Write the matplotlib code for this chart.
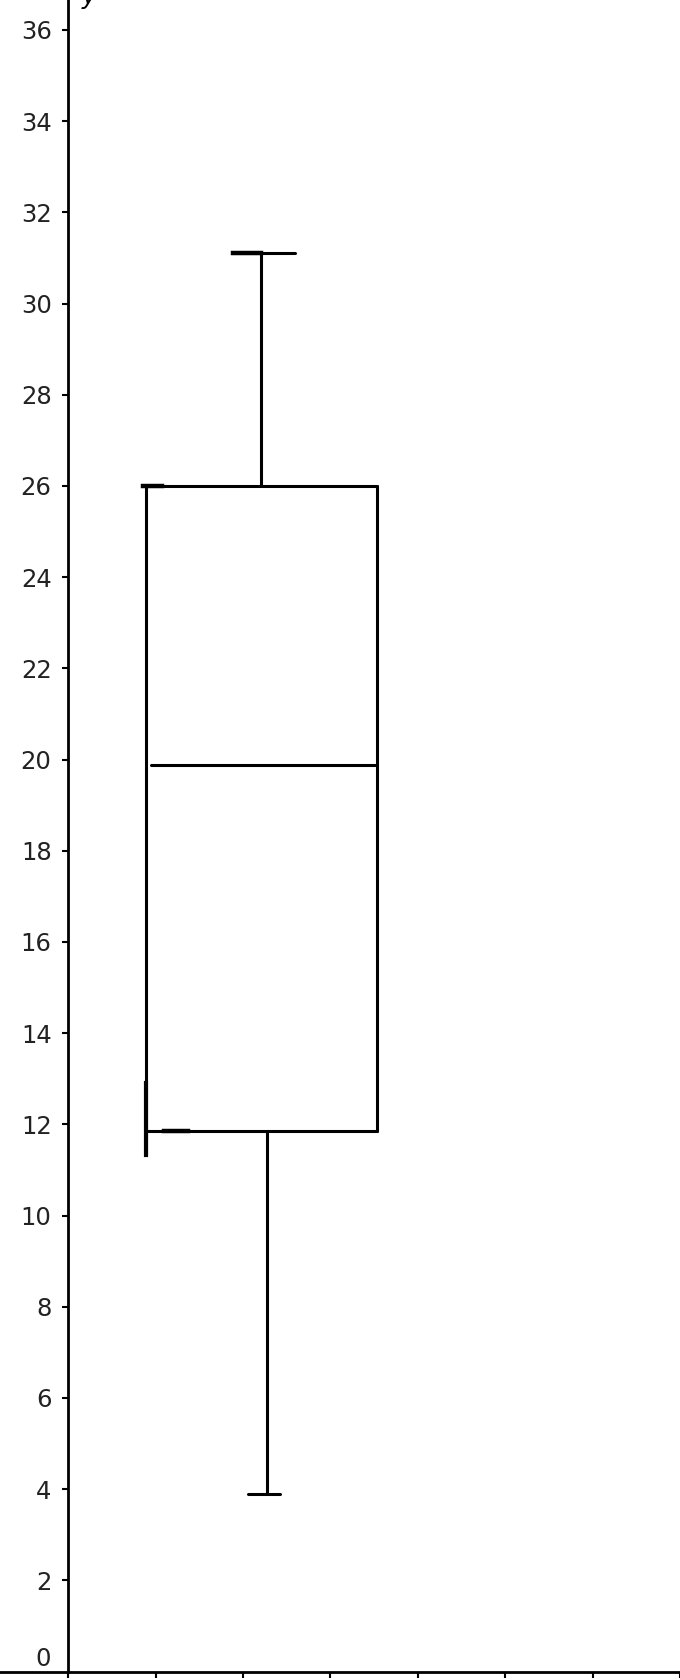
import matplotlib
matplotlib.use("Agg")
import matplotlib.pyplot as plt
import numpy as np

# Box plot statistics
lower_whisker = 3.9
q1 = 11.85
median = 19.87
q3 = 26.0
upper_whisker = 31.1
left_edge_low = 11.33   # left side of the box drawn slightly below q1

y_ticks = list(range(2, 37, 2))
x_ticks = list(range(0, 8))

# pixel geometry helpers (figure 680x1680 px)
W, H = 680, 1680
x0_px, px_per_x = 70.7, 90.5
y0_px, px_per_y = 1671.5, 45.6

fig = plt.figure(figsize=(W / 100, H / 100), dpi=100)
ax = fig.add_axes([0, 0, 1, 1])
ax.set_xlim(-x0_px / px_per_x, (W - x0_px) / px_per_x)
ax.set_ylim(-(H - y0_px) / px_per_y, y0_px / px_per_y)

ax.spines['left'].set_position(('data', 0))
ax.spines['bottom'].set_position(('data', 0))
ax.spines['top'].set_visible(False)
ax.spines['right'].set_visible(False)
ax.spines['left'].set_bounds(0, y0_px / px_per_y)
for s in ('left', 'bottom'):
    ax.spines[s].set_linewidth(2.0)
    ax.spines[s].set_color('black')

ax.set_yticks(y_ticks)
ax.set_yticklabels([str(v) for v in y_ticks])
ax.set_xticks(x_ticks)
ax.set_xticklabels([])
ax.tick_params(axis='y', direction='out', length=4.5, width=1.5, pad=7.5,
               labelsize=17.5, colors='black', labelcolor='#222222')
ax.tick_params(axis='x', direction='out', length=4.5, width=1.5, colors='black')

# "0" label placed slightly above the origin, as in the reference
ax.annotate('0', xy=(0, 0), xytext=(-17, 12), textcoords='offset pixels',
            ha='right', va='center', fontsize=17.5, color='#222222')
# clipped y-axis label
ax.text(0.15, 36.57, 'y', fontsize=18, style='italic', ha='left',
        va='baseline', color='black', clip_on=False)

lw = 2.2
kw = dict(color='black', lw=lw, solid_capstyle='round')

# box positions (x units)
bl, br = 0.89, 3.53
# box
ax.plot([bl, br], [q3, q3], **kw)
ax.plot([bl, br], [q1, q1], **kw)
ax.plot([bl, bl], [left_edge_low, q3], **kw)
ax.plot([br, br], [q1, q3], **kw)
# median
ax.plot([0.95, 3.51], [median, median], **kw)
# upper whisker and cap
ax.plot([2.20, 2.20], [q3, upper_whisker], **kw)
ax.plot([1.89, 2.59], [upper_whisker, upper_whisker], **kw)
ax.plot([1.89, 2.20], [upper_whisker, upper_whisker], color='black', lw=lw + 1)
# lower whisker and cap
ax.plot([2.27, 2.27], [lower_whisker, q1], **kw)
ax.plot([2.06, 2.42], [lower_whisker, lower_whisker], **kw)
# small thicker overdraw strokes
ax.plot([0.86, 1.07], [q3, q3], color='black', lw=lw + 1)
ax.plot([1.10, 1.37], [q1, q1], color='black', lw=lw + 1)
ax.plot([bl, bl], [left_edge_low, 12.9], color='black', lw=lw + 0.8)

fig.savefig('out.png', dpi=100)
